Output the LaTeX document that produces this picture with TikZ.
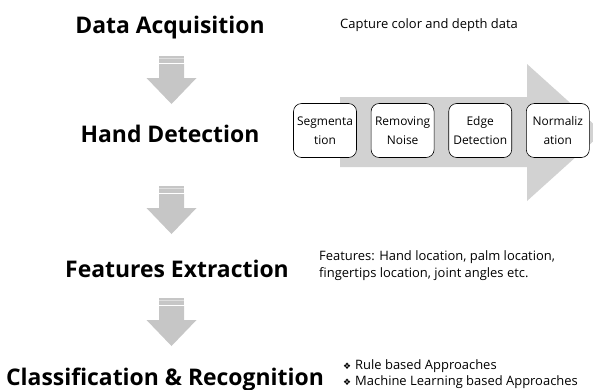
\documentclass[tikz,border=0pt]{standalone}
\usepackage{fontspec}
\setmainfont{Open Sans}
\newfontfamily\symfont{DejaVu Sans}
\usepackage{tikz}
\usetikzlibrary{calc,positioning}
\definecolor{arrowgray}{RGB}{198,198,198}
\definecolor{bandgray}{RGB}{222,222,222}
\definecolor{bigarrow}{RGB}{210,210,210}
\tikzstyle{stage}=[font=\bfseries\fontsize{23}{26}\selectfont, anchor=base, inner sep=0pt]
\tikzstyle{note}=[font=\fontsize{13}{17}\selectfont, anchor=base west, inner sep=0pt, align=left]
\tikzstyle{procbox}=[rectangle, draw, line width=0.6bp, rounded corners=8bp, fill=white,
  minimum width=63bp, minimum height=54bp, align=center, inner sep=0pt,
  font=\fontsize{12}{19}\selectfont]
\newcommand{\bul}{{\symfont\fontsize{9}{10}\selectfont ❖}\hspace{4bp}}

\begin{document}
\begin{tikzpicture}[x=1bp, y=-1bp]
  \useasboundingbox (0,0) rectangle (593,389);
  \clip (0,0) rectangle (593,389);

  % stages
  \node[stage] (acq) at (170,33) {Data Acquisition};
  \node[stage] (detect) at (170,142) {Hand Detection};
  \node[stage] (feat) at (177,277) {Features Extraction};
  \node[stage] (classif) at (165,385) {Classification \& Recognition};

  % down arrows
  \foreach \t in {56,186,298} {
    \fill[arrowgray] (159,\t) rectangle (184,\t+6.5);
    \fill[bandgray] (159,\t+2) rectangle (184,\t+3);
    \fill[arrowgray] (159,\t+8) -- (184,\t+8) -- (184,\t+22) -- (196.5,\t+22)
      -- (171.5,\t+48) -- (146.5,\t+22) -- (159,\t+22) -- cycle;
  }

  % big arrow behind the steps
  \fill[bigarrow] (340,97) -- (527,97) -- (527,64) -- (603,132.5) -- (527,201)
    -- (527,167) -- (340,167) -- cycle;

  \node[procbox] (seg) at (325,130.5) {Segmenta\\tion};
  \node[procbox, right=14bp of seg] (noise) {Removing\\Noise};
  \node[procbox, right=14bp of noise] (edge) {Edge\\Detection};
  \node[procbox, right=14bp of edge] (norm) {Normaliz\\ation};

  % notes
  \node[note] (capture) at (340,28) {Capture color and depth data};
  \node[note] (featnote) at (319,277) {Features: Hand location, palm location,\\
    fingertips location, joint angles etc.};
  \node[note] (rule) at (343,369) {\bul Rule based Approaches};
  \node[note] (ml) at (343,385) {\bul Machine Learning based Approaches};
\end{tikzpicture}
\end{document}
